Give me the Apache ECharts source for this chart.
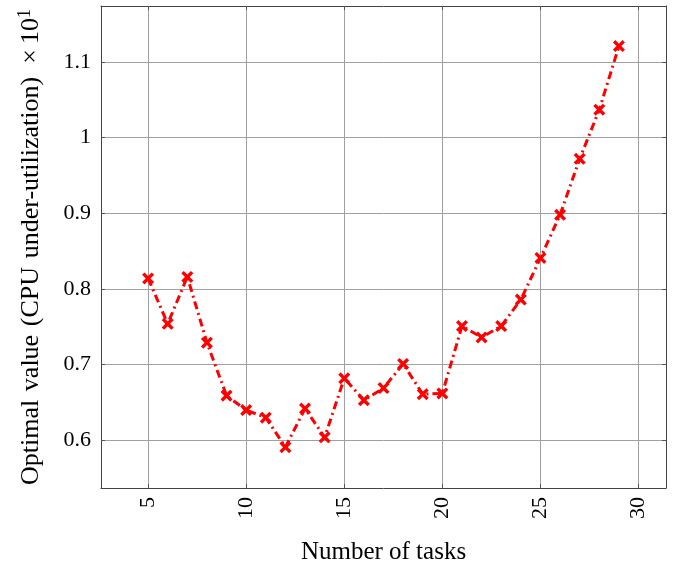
<!DOCTYPE html>
<html><head><meta charset="utf-8">
<script src="https://cdn.jsdelivr.net/npm/echarts@6/dist/echarts.min.js"></script>
<style>html,body{margin:0;padding:0;background:#fff}#c{width:680px;height:570px}</style>
</head><body><div id="c"></div>
<script>
const tasks = [5,6,7,8,9,10,11,12,13,14,15,16,17,18,19,20,21,22,23,24,25,26,27,28,29];
const optimalValue = [0.814,0.754,0.816,0.729,0.659,0.640,0.630,0.591,0.642,0.604,0.682,0.653,0.669,0.701,0.661,0.662,0.751,0.736,0.751,0.786,0.841,0.898,0.972,1.037,1.121];
const xTicks = [5,10,15,20,25,30];
const yTicks = [0.6,0.7,0.8,0.9,1.0,1.1];
const xTitle = 'Number of tasks';
const yTitle = 'Optimal\u2004value\u2004(CPU\u2004under-utilization)\u2002×\u200910';
const yTitleSup = '1';

const font = 'Liberation Serif';
const chart = echarts.init(document.getElementById('c'), null, {renderer:'canvas'});
const gridLine = {show:true, lineStyle:{color:'#a0a0a0', width:1}};
const frame = {show:true, lineStyle:{color:'#444', width:1}};
const tick = {show:true, inside:true, length:4, lineStyle:{color:'#555'}};
chart.setOption({
  animation:false,
  backgroundColor:'#fff',
  grid:{left:101, top:6, right:14, bottom:79, containLabel:false},
  xAxis:[{
    type:'value', min:2.6, max:31.4, interval:5,
    axisLine:frame, splitLine:gridLine,
    axisLabel:{rotate:90, margin:9, fontFamily:font, fontSize:22, color:'#000',
      customValues:xTicks},
    axisTick:Object.assign({customValues:xTicks}, tick),
    name:xTitle, nameLocation:'middle', nameGap:52,
    nameTextStyle:{fontFamily:font, fontSize:25, color:'#000'}
  },{
    type:'value', position:'top', min:2.6, max:31.4,
    axisLine:frame, axisLabel:{show:false}, splitLine:{show:false},
    axisTick:Object.assign({customValues:xTicks}, tick)
  }],
  yAxis:[{
    type:'value', min:0.537, max:1.174,
    axisLine:frame, splitLine:gridLine,
    axisTick:Object.assign({customValues:yTicks}, tick),
    axisLabel:{margin:10, fontFamily:font, fontSize:22, color:'#000',
      customValues:yTicks,
      formatter:v=>String(Math.round(v*10)/10)},
    name:yTitle + '{sup|' + yTitleSup + '}', nameLocation:'middle', nameGap:55, nameRotate:90,
    nameTextStyle:{fontFamily:font, fontSize:26, color:'#000', lineHeight:30,
      rich:{sup:{fontFamily:font, fontSize:18, color:'#000', verticalAlign:'top', lineHeight:30, padding:[0,0,8,0]}}}
  },{
    type:'value', position:'right', min:0.537, max:1.174,
    axisLine:frame, axisLabel:{show:false}, splitLine:{show:false},
    axisTick:Object.assign({customValues:yTicks}, tick)
  }],
  series:[{
    type:'line',
    data:tasks.map((t,i)=>[t, optimalValue[i]]),
    symbol:'path://M2,0 L5,3 L8,0 L10,2 L7,5 L10,8 L8,10 L5,7 L2,10 L0,8 L3,5 L0,2 Z',
    symbolSize:12,
    showAllSymbol:true,
    itemStyle:{color:'#ff0000'},
    lineStyle:{color:'#ff0000', width:3, type:[8,4,2,4]}
  }]
});
</script></body></html>
